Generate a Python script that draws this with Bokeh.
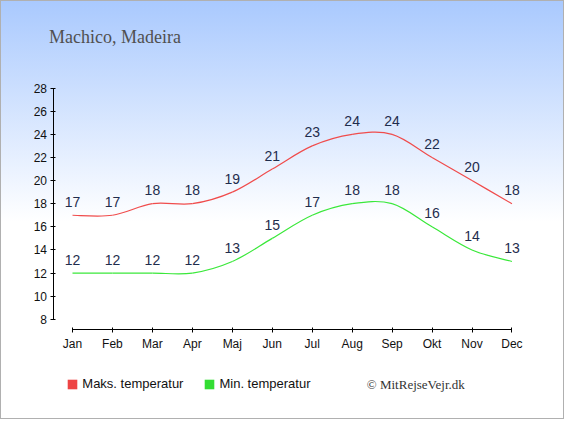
from bokeh.plotting import figure
from bokeh.models import FixedTicker, Label, Legend, LegendItem, ColumnDataSource
from bokeh.core.properties import value
from bokeh.embed import file_html
from bokeh.resources import INLINE

months = ["Jan", "Feb", "Mar", "Apr", "Maj", "Jun", "Jul", "Aug", "Sep", "Okt", "Nov", "Dec"]
max_temp = [17, 17, 18, 18, 19, 21, 23, 24, 24, 22, 20, 18]
min_temp = [12, 12, 12, 12, 13, 15, 17, 18, 18, 16, 14, 13]
y_ticks = [8, 10, 12, 14, 16, 18, 20, 22, 24, 26, 28]
title_text = "Machico, Madeira"
legend_max = "Maks. temperatur"
legend_min = "Min. temperatur"
credit_text = "\u00a9 MitRejseVejr.dk"

RED = "#f04c4c"
GREEN = "#3ae83a"
LABEL_COLOR = "#1f2d4d"

xs = list(range(len(months)))

# canvas geometry (px)
FL, FB = 30, 393            # frame left / bottom
FW, FH = 534, 393           # frame size
PXX = 39.95                 # px per month
PXY = 11.56                 # px per degree
JAN_X = 72.0                # canvas x of first month
Y8 = 318.8                  # canvas y of lowest tick
AXIS_X = 52.5               # canvas x of y-axis line
AXIS_Y = 328.5              # canvas y of x-axis line

x0 = xs[0] - (JAN_X - FL) / PXX
x1 = x0 + FW / PXX
y0 = y_ticks[0] - (FB - Y8) / PXY
y1 = y0 + FH / PXY


def dx(cx):
    return x0 + (cx - FL) / PXX


def dy(cy):
    return y0 + (FB - cy) / PXY


p = figure(frame_width=FW, frame_height=FH, output_backend="svg", toolbar_location=None,
           x_range=(x0, x1), y_range=(y0, y1),
           min_border_left=FL, min_border_right=0, min_border_top=0, min_border_bottom=419 - FB)
p.styles = {"background-image": "linear-gradient(to bottom, #a9c9fe 0%, #ffffff 53%, #ffffff 100%)",
            "box-shadow": "inset 0 0 0 1px #b0b0b0"}
p.border_fill_color = None
p.background_fill_color = None
p.outline_line_color = None
p.xgrid.visible = False
p.ygrid.visible = False


def spline_source(vals):
    n = len(vals)
    pts = [(float(xs[i]), float(vals[i])) for i in range(n)]
    d = dict(x0=[], y0=[], x1=[], y1=[], cx0=[], cy0=[], cx1=[], cy1=[])
    for i in range(n - 1):
        p0 = pts[i - 1] if i > 0 else pts[i]
        p1 = pts[i]
        p2 = pts[i + 1]
        p3 = pts[i + 2] if i + 2 < n else pts[i + 1]
        d["x0"].append(p1[0]); d["y0"].append(p1[1])
        d["x1"].append(p2[0]); d["y1"].append(p2[1])
        d["cx0"].append(p1[0] + (p2[0] - p0[0]) / 6)
        d["cy0"].append(p1[1] + (p2[1] - p0[1]) / 6)
        d["cx1"].append(p2[0] - (p3[0] - p1[0]) / 6)
        d["cy1"].append(p2[1] - (p3[1] - p1[1]) / 6)
    return ColumnDataSource(d)


p.bezier(x0="x0", y0="y0", x1="x1", y1="y1", cx0="cx0", cy0="cy0", cx1="cx1", cy1="cy1",
         source=spline_source(max_temp), line_color=RED, line_width=1.2)
p.bezier(x0="x0", y0="y0", x1="x1", y1="y1", cx0="cx0", cy0="cy0", cx1="cx1", cy1="cy1",
         source=spline_source(min_temp), line_color=GREEN, line_width=1.2)

lab_src = ColumnDataSource(dict(x=xs + xs, y=max_temp + min_temp,
                                t=[str(v) for v in max_temp + min_temp]))
p.text(x="x", y="y", text="t", source=lab_src, text_align="center", text_baseline="middle",
       y_offset=-13.5, text_font=value("Liberation Sans"), text_font_size="14px",
       text_color=LABEL_COLOR)

# axes (drawn at fixed positions inside the extended frame)
p.yaxis.ticker = FixedTicker(ticks=y_ticks)
p.yaxis.bounds = (y_ticks[0], y_ticks[-1])
p.yaxis.fixed_location = dx(AXIS_X)
p.xaxis.ticker = FixedTicker(ticks=xs)
p.xaxis.bounds = (xs[0], xs[-1])
p.xaxis.fixed_location = dy(AXIS_Y)
p.xaxis.major_label_overrides = {i: m for i, m in enumerate(months)}
for ax in (p.xaxis[0], p.yaxis[0]):
    ax.axis_line_color = "black"
    ax.major_tick_line_color = "black"
    ax.minor_tick_line_color = None
    ax.major_label_text_font = "Liberation Sans"
    ax.major_label_text_font_size = "12px"
    ax.major_label_text_color = "#111111"
p.xaxis.major_tick_in = 2
p.xaxis.major_tick_out = 3
p.xaxis.major_label_standoff = 5
p.yaxis.major_tick_in = 2
p.yaxis.major_tick_out = 3
p.yaxis.major_label_standoff = 3

# title
p.add_layout(Label(x=dx(48.6), y=dy(36.6), text=title_text,
                   text_font="Liberation Serif", text_font_size="18px", text_color="#505050",
                   text_baseline="alphabetic"))

# legend: swatch renderers (hidden, only their legend glyph is shown)
r_max = p.quad(left=xs[:1], right=xs[:1], bottom=max_temp[:1], top=max_temp[:1],
               fill_color="#ee4444", line_color=None)
r_min = p.quad(left=xs[:1], right=xs[:1], bottom=min_temp[:1], top=min_temp[:1],
               fill_color="#33dd33", line_color=None)
r_max.visible = False
r_min.visible = False
legend = Legend(items=[LegendItem(label=legend_max, renderers=[r_max]),
                       LegendItem(label=legend_min, renderers=[r_min])],
                orientation="horizontal", location=(66.3 - FL, FB - 391),
                padding=0, margin=0, spacing=20, glyph_width=12, glyph_height=12,
                label_standoff=4, label_text_font="Liberation Sans", label_text_font_size="13px",
                label_text_color="#111111", border_line_color=None, background_fill_alpha=0,
                inactive_fill_alpha=0)
p.add_layout(legend, "center")

# credit
p.add_layout(Label(x=dx(366.3), y=dy(383.5), text=credit_text,
                   text_font="Liberation Serif", text_font_size="13px", text_color="#333333",
                   text_baseline="middle"))

open("out.html", "w").write(file_html(p, INLINE))
